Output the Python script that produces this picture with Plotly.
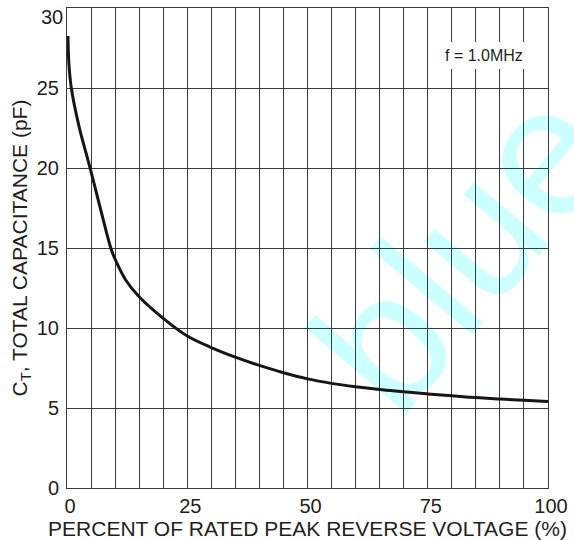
import plotly.graph_objects as go

# Data
voltage_pct = [0.2, 0.4, 0.9, 2.5, 4.8, 7.0, 9.1, 10, 12.2, 15, 20, 25, 30, 35, 40,
               45, 50, 55, 60, 65, 70, 75, 80, 85, 90, 95, 100]
capacitance_pf = [28.25, 26.5, 25.0, 22.6, 20.0, 17.4, 15.0, 14.3, 13.0, 11.95, 10.6,
                  9.5, 8.78, 8.18, 7.66, 7.2, 6.82, 6.54, 6.33, 6.16, 6.02, 5.88,
                  5.76, 5.65, 5.56, 5.48, 5.40]

x_ticks = [0, 25, 50, 75, 100]
y_ticks = [0, 5, 10, 15, 20, 25, 30]

x_title = "PERCENT OF RATED PEAK REVERSE VOLTAGE (%)"
y_title = "C<sub>T</sub>, TOTAL CAPACITANCE (pF)"
freq_label = "f = 1.0MHz"
caption = "Fig. 4 Total Capacitance vs. Reverse Voltage"
watermark = "blue"

FONT = "Liberation Sans, Arial, sans-serif"
GRID = "#3a3a3a"
TXT = "#231f20"

fig = go.Figure()
fig.add_trace(go.Scatter(
    x=voltage_pct, y=capacitance_pf, mode="lines",
    line=dict(color="#1a1414", width=3, shape="spline", smoothing=1.0),
    hoverinfo="skip", showlegend=False,
))

# the top label (30) sits just below its gridline in the reference; drawn separately
axis_ticks = y_ticks[:-1]

fig.update_layout(
    width=574, height=540,
    margin=dict(l=67, r=26, t=8, b=52),
    paper_bgcolor="white", plot_bgcolor="white",
    font=dict(family=FONT, color=TXT, size=18),
    showlegend=False,
    xaxis=dict(
        range=[0, 100], tickvals=x_ticks, ticktext=[str(v) for v in x_ticks],
        showgrid=True, gridcolor=GRID, gridwidth=1,
        minor=dict(dtick=5, tick0=0, showgrid=True, gridcolor=GRID, gridwidth=1),
        zeroline=False, showline=True, linecolor=GRID, linewidth=1, mirror=True,
        ticks="", tickfont=dict(size=20, color=TXT), ticklabelshift=3,
        ticklabeloverflow="allow",
        title=dict(text=x_title, font=dict(size=21, color=TXT), standoff=3),
        automargin=False, fixedrange=True,
    ),
    yaxis=dict(
        range=[0, 30], tickvals=axis_ticks, ticktext=[str(v) for v in axis_ticks],
        showgrid=True, gridcolor=GRID, gridwidth=1,
        zeroline=False, showline=True, linecolor=GRID, linewidth=1, mirror=True,
        ticks="", tickfont=dict(size=20, color=TXT),
        ticklabeloverflow="allow", ticklabelstandoff=3,
        title=dict(text=y_title, font=dict(size=21, color=TXT), standoff=3),
        automargin=False, fixedrange=True,
    ),
)

fig.add_annotation(
    x=0, y=y_ticks[-1], xref="x", yref="y", text=str(y_ticks[-1]), showarrow=False,
    font=dict(size=20, color=TXT), xanchor="right", yanchor="top",
    xshift=-3, yshift=3, borderpad=0,
)

# frequency label box
fig.add_annotation(
    x=86.7, y=27.06, xref="x", yref="y", text=freq_label, showarrow=False,
    font=dict(size=16, color=TXT), bgcolor="white", borderpad=5, borderwidth=0,
)

# caption partially cut off at the bottom edge
fig.add_annotation(
    x=0.4667, y=-0.127, xref="paper", yref="paper", text=caption, showarrow=False,
    font=dict(size=20, color="#9a9a9a"), xanchor="center", yanchor="middle",
)

# watermark drawn beneath the gridlines
fig.add_shape(
    type="rect", xref="paper", yref="paper",
    x0=0.783, x1=0.803, y0=0.512, y1=0.532,
    line=dict(width=0), fillcolor="rgba(0,0,0,0)", layer="below",
    label=dict(text=watermark, font=dict(size=184, color="#ccffff", family=FONT),
               textangle=-50, textposition="middle center"),
)

fig.write_html("out.html")
